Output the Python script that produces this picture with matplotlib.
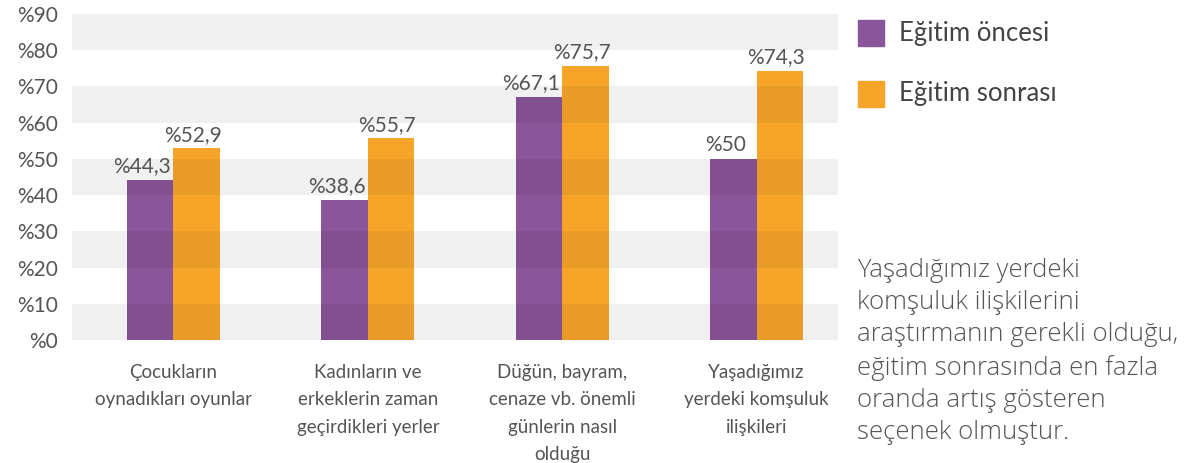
import matplotlib.pyplot as plt
import numpy as np

plt.rcParams['font.family'] = ['Lato', 'DejaVu Sans']

categories = [
    "Çocukların\noynadıkları oyunlar",
    "Kadınların ve\nerkeklerin zaman\ngeçirdikleri yerler",
    "Düğün, bayram,\ncenaze vb. önemli\ngünlerin nasıl\nolduğu",
    "Yaşadığımız\nyerdeki komşuluk\nilişkileri",
]
before = [44.3, 38.6, 67.1, 50.0]
after = [52.9, 55.7, 75.7, 74.3]
series_names = ["Eğitim öncesi", "Eğitim sonrası"]
y_ticks = [0, 10, 20, 30, 40, 50, 60, 70, 80, 90]

note = ("Yaşadığımız yerdeki\nkomşuluk ilişkilerini\naraştırmanın gerekli olduğu,\n"
        "eğitim sonrasında en fazla\noranda artış gösteren\nseçenek olmuştur.")

purple = '#8b559b'
orange = '#f7a529'
text_col = '#555555'


def fmt(v):
    s = "{:.1f}".format(v).replace('.', ',')
    if s.endswith(',0'):
        s = s[:-2]
    return '%' + s


fig = plt.figure(figsize=(11.99, 4.63), dpi=100)
ax = fig.add_axes([72 / 1199, 1 - 340 / 463, 766 / 1199, 326 / 463])

x = np.arange(len(categories))
w = 0.239
ax.bar(x - w / 2, before, w, color=purple, zorder=2)
ax.bar(x + w / 2, after, w, color=orange, zorder=2)

# shaded bands drawn over bars
for lo in range(0, 90, 20):
    ax.axhspan(lo, lo + 10, color='black', alpha=0.06, lw=0, zorder=3)

for xi, b, a in zip(x, before, after):
    ax.text(xi - w / 2 - 0.04, b + 1.0, fmt(b), ha='center', va='bottom',
            fontsize=15, color=text_col, zorder=4)
    ax.text(xi + w / 2 - 0.02, a + 1.0, fmt(a), ha='center', va='bottom',
            fontsize=15, color=text_col, zorder=4)

ax.set_xlim(-0.522, 3.419)
ax.set_ylim(0, 90)
ax.set_yticks(y_ticks)
ax.set_yticklabels(['%' + str(t) for t in y_ticks], fontsize=15, color=text_col)
ax.set_xticks(x)
ax.set_xticklabels(categories, fontsize=13.5, color=text_col, linespacing=1.75, va='top')
ax.tick_params(length=0, axis='x', pad=17)
ax.tick_params(length=0, axis='y', pad=10)
for s in ax.spines.values():
    s.set_visible(False)

# legend
for i, (name, col) in enumerate(zip(series_names, [purple, orange])):
    yy = 1 - (33 + 61 * i) / 463
    fig.patches.append(plt.Rectangle((858 / 1199, yy - 13 / 463), 26 / 1199, 26 / 463,
                                     transform=fig.transFigure, color=col))
    fig.text(899 / 1199, yy, name, fontsize=18.5, color='#444444', va='center')

fig.text(857 / 1199, 1 - 258 / 463, note, fontsize=18.5, color=text_col,
         family=['Open Sans', 'DejaVu Sans'], fontweight=300, va='top', linespacing=1.38)

fig.savefig('out.png', dpi=100)
